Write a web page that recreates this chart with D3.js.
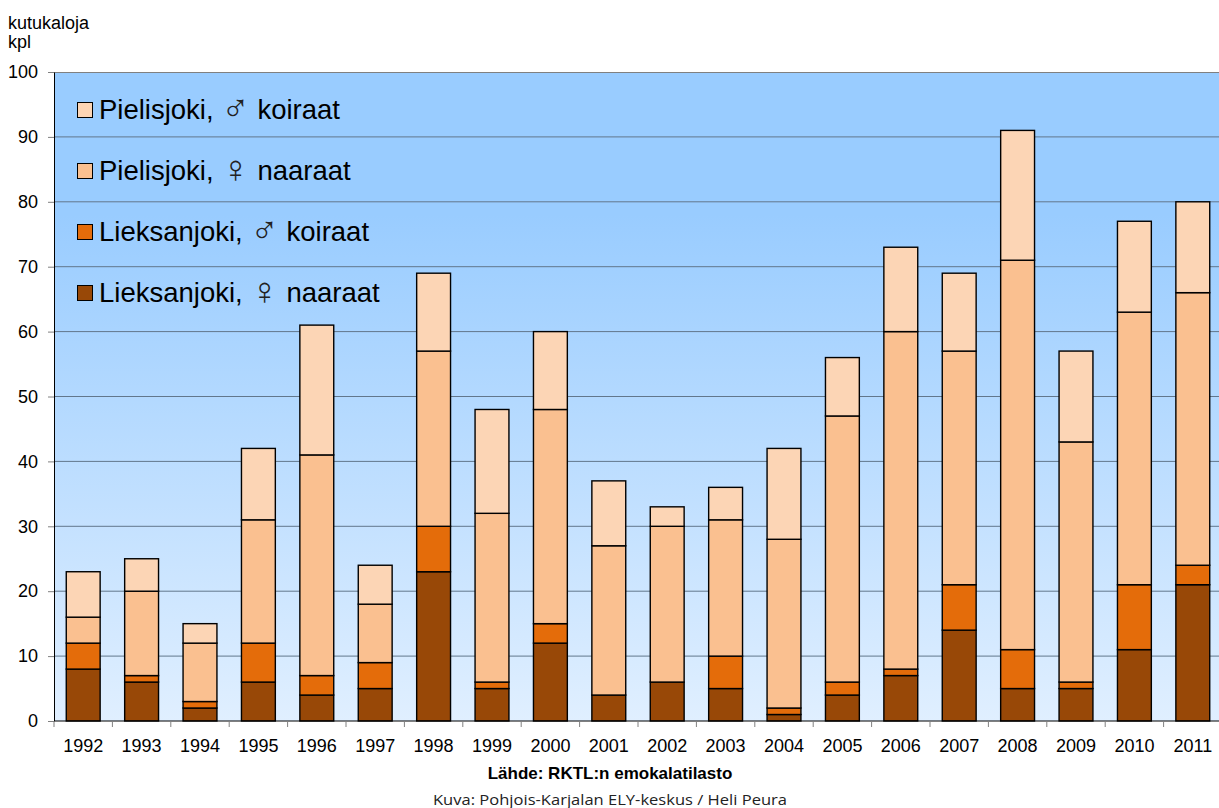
<!DOCTYPE html>
<html>
<head>
<meta charset="utf-8">
<script src="https://cdn.jsdelivr.net/npm/d3@7"></script>
<style>
  body { margin: 0; background: #fff; }
  text { font-family: Arial, "Liberation Sans", sans-serif; }
</style>
</head>
<body>
<div id="chart"></div>
<script>
// values
var years = ['1992','1993','1994','1995','1996','1997','1998','1999','2000','2001',
             '2002','2003','2004','2005','2006','2007','2008','2009','2010','2011'];
var lieksaFemale = [8, 6, 2, 6, 4, 5, 23, 5, 12, 4, 6, 5, 1, 4, 7, 14, 5, 5, 11, 21];
var lieksaMale   = [4, 1, 1, 6, 3, 4, 7, 1, 3, 0, 0, 5, 1, 2, 1, 7, 6, 1, 10, 3];
var pielisFemale = [4, 13, 9, 19, 34, 9, 27, 26, 33, 23, 24, 21, 26, 41, 52, 36, 60, 37, 42, 42];
var pielisMale   = [7, 5, 3, 11, 20, 6, 12, 16, 12, 10, 3, 5, 14, 9, 13, 12, 20, 14, 14, 14];
var seriesRivers = ['Lieksanjoki,', 'Lieksanjoki,', 'Pielisjoki,', 'Pielisjoki,'];
var seriesSymbols = ['♀', '♂', '♀', '♂'];
var seriesSex = ['naaraat', 'koiraat', 'naaraat', 'koiraat'];
var yTicks = [0, 10, 20, 30, 40, 50, 60, 70, 80, 90, 100];

var colors = ['#984807', '#e46c0a', '#fac090', '#fcd5b5'];

var svgWidth = 1219;
var svgHeight = 808;
var margin = { top: 72, left: 54 };
var chartWidth = 1168;
var chartHeight = 649;

var svg = d3.select('#chart')
  .append('svg')
  .attr('width', svgWidth)
  .attr('height', svgHeight);

// background gradient
var grad = svg.append('defs').append('linearGradient')
  .attr('id', 'bg')
  .attr('x1', 0).attr('y1', 0).attr('x2', 0).attr('y2', 1);
grad.append('stop').attr('offset', '0%').attr('stop-color', '#99ccff');
grad.append('stop').attr('offset', '22%').attr('stop-color', '#99ccff');
grad.append('stop').attr('offset', '100%').attr('stop-color', '#e0efff');

var chartGroup = svg.append('g')
  .attr('transform', `translate(${margin.left}, ${margin.top})`);

chartGroup.append('rect')
  .attr('width', chartWidth)
  .attr('height', chartHeight)
  .attr('fill', 'url(#bg)');

var xScale = d3.scaleBand()
  .domain(years)
  .range([0, chartWidth])
  .paddingInner(0.42)
  .paddingOuter(0.21);

var yScale = d3.scaleLinear()
  .domain([0, 100])
  .range([chartHeight, 0]);

// gridlines
chartGroup.selectAll('.grid')
  .data(yTicks.slice(1, -1))
  .enter()
  .append('line')
  .attr('x1', 0)
  .attr('x2', chartWidth)
  .attr('y1', d => yScale(d))
  .attr('y2', d => yScale(d))
  .attr('stroke', '#62778c')
  .attr('stroke-width', 1);

// top border
chartGroup.append('line')
  .attr('x1', 0).attr('x2', chartWidth)
  .attr('y1', 0.5).attr('y2', 0.5)
  .attr('stroke', '#808080');

// stacked data
var table = years.map((y, i) => ({
  year: y, s0: lieksaFemale[i], s1: lieksaMale[i], s2: pielisFemale[i], s3: pielisMale[i]
}));
var stack = d3.stack().keys(['s0', 's1', 's2', 's3']);
var layers = stack(table);

chartGroup.selectAll('.layer')
  .data(layers)
  .enter()
  .append('g')
  .attr('fill', (d, i) => colors[i])
  .selectAll('rect')
  .data(d => d)
  .enter()
  .append('rect')
  .attr('x', d => xScale(d.data.year))
  .attr('width', xScale.bandwidth())
  .attr('y', d => yScale(d[1]))
  .attr('height', d => yScale(d[0]) - yScale(d[1]))
  .attr('stroke', '#000')
  .attr('stroke-width', 1.4);

// y axis
var yAxis = d3.axisLeft(yScale).tickValues(yTicks).tickSize(6).tickSizeOuter(0);
var yAxisG = chartGroup.append('g').call(yAxis);
yAxisG.select('.domain').attr('stroke', '#000');
yAxisG.selectAll('.tick line').attr('stroke', '#808080');
yAxisG.selectAll('.tick text')
  .attr('x', -16)
  .style('font-size', '18px')
  .style('font-family', 'Arial, "Liberation Sans", sans-serif')
  .attr('fill', '#000');

// x axis
var xAxisG = chartGroup.append('g')
  .attr('transform', `translate(0, ${chartHeight})`);
xAxisG.append('line')
  .attr('x1', 0).attr('x2', chartWidth)
  .attr('stroke', '#000');
xAxisG.selectAll('.xtick')
  .data(years)
  .enter()
  .append('line')
  .attr('x1', d => xScale(d) - xScale.step() * 0.21)
  .attr('x2', d => xScale(d) - xScale.step() * 0.21)
  .attr('y1', 0).attr('y2', 6)
  .attr('stroke', '#808080');
xAxisG.selectAll('.xlabel')
  .data(years)
  .enter()
  .append('text')
  .attr('x', d => xScale(d) + xScale.bandwidth() / 2)
  .attr('y', 31)
  .attr('text-anchor', 'middle')
  .style('font-size', '18px')
  .text(d => d);

// legend
var legendItems = [3, 2, 1, 0];
var legend = svg.append('g');
legendItems.forEach((s, i) => {
  var cy = 110 + i * 61;
  legend.append('rect')
    .attr('x', 77.5).attr('y', cy - 7.5)
    .attr('width', 15).attr('height', 15)
    .attr('fill', colors[s])
    .attr('stroke', '#000');
  var t = legend.append('text')
    .attr('x', 99).attr('y', cy + 9)
    .style('font-size', '27.5px');
  t.append('tspan').text(seriesRivers[s] + ' ');
  t.append('tspan')
    .style('font-family', '"DejaVu Sans", sans-serif')
    .style('font-weight', '200')
    .style('font-size', '38px')
    .attr('dy', 2)
    .attr('fill', '#222')
    .text(seriesSymbols[s]);
  t.append('tspan').attr('dy', -2).text(' ' + seriesSex[s]);
});

// titles
svg.append('text').attr('x', 8).attr('y', 29).style('font-size', '18px').text('kutukaloja');
svg.append('text').attr('x', 8).attr('y', 48).style('font-size', '18px').text('kpl');

svg.append('text')
  .attr('x', 610).attr('y', 779)
  .attr('text-anchor', 'middle')
  .style('font-size', '17px')
  .style('font-weight', 'bold')
  .text('Lähde: RKTL:n emokalatilasto');

svg.append('text')
  .attr('x', 610).attr('y', 805)
  .attr('text-anchor', 'middle')
  .attr('textLength', 354)
  .attr('lengthAdjust', 'spacingAndGlyphs')
  .style('font-size', '15px')
  .style('font-family', '"Open Sans", sans-serif')
  .attr('fill', '#222')
  .text('Kuva: Pohjois-Karjalan ELY-keskus / Heli Peura');
</script>
</body>
</html>
